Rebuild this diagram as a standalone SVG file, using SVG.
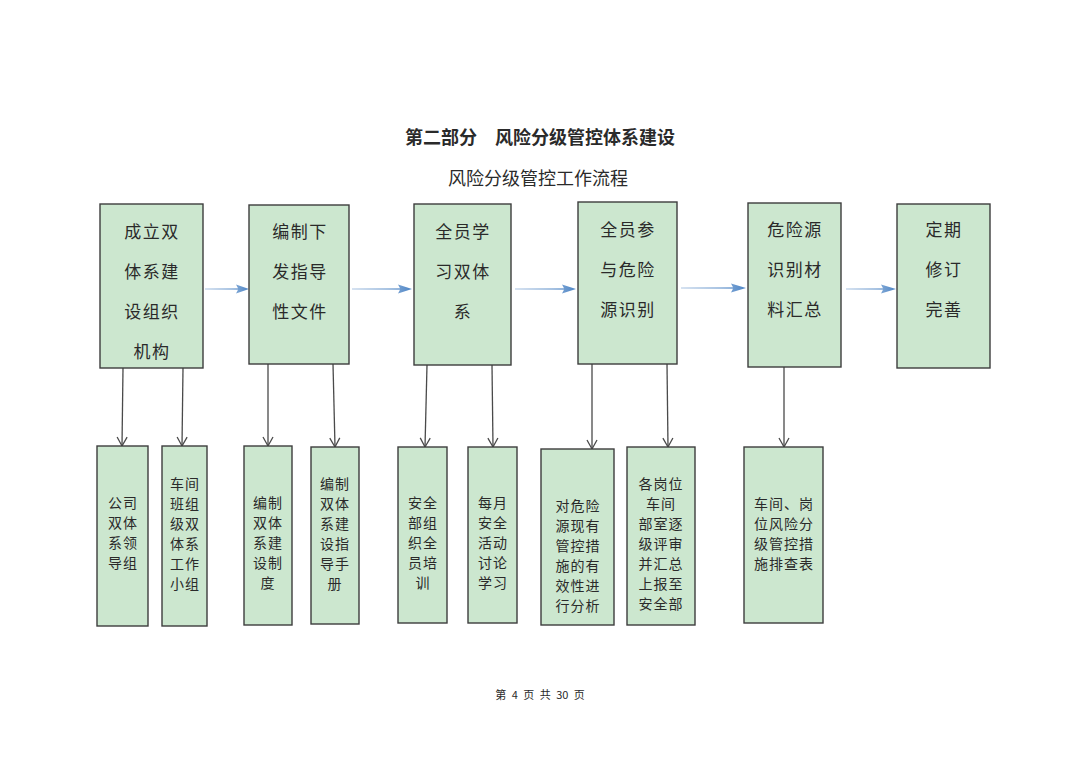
<svg xmlns="http://www.w3.org/2000/svg" width="1080" height="763" viewBox="0 0 1080 763">
<defs>
<style>
.box{fill:#cce7cf;stroke:#3d3d3d;stroke-width:1.4}
.t{font-family:"Noto Sans CJK SC","Noto Sans CJK TC",sans-serif;fill:#2a2a2a;text-anchor:middle;dominant-baseline:central}
.big{font-size:17px;letter-spacing:1.5px}
.sm{font-size:14px;letter-spacing:1px}
.conn{stroke:#4a4a4a;stroke-width:1.3;fill:none;marker-end:url(#vhead)}
.harrow{fill:url(#blueGrad)}
</style>
<linearGradient id="blueGrad" x1="0" y1="0" x2="1" y2="0">
<stop offset="0" stop-color="#c9d9ec"/>
<stop offset="0.6" stop-color="#8cb0d9"/>
<stop offset="1" stop-color="#4f86c6"/>
</linearGradient>
<marker id="vhead" viewBox="0 0 12 12" refX="10" refY="6" markerWidth="12" markerHeight="12" markerUnits="userSpaceOnUse" orient="auto">
<path d="M1,1 L10,6 L1,11" fill="none" stroke="#4a4a4a" stroke-width="1.3"/>
</marker>
</defs>
<rect width="1080" height="763" fill="#ffffff"/>

<text class="t" x="540" y="136" style="font-size:18px;font-weight:bold">第二部分　风险分级管控体系建设</text>
<text class="t" x="538" y="177" style="font-size:18px">风险分级管控工作流程</text>
<text class="t" x="540" y="694" style="font-size:11px;word-spacing:3px" xml:space="preserve">第 4 页 共 30 页</text>

<g id="connectors">
<path class="harrow" d="M205,288.2 L238,288.2 L236,284.5 L249,289 L236,293.5 L238,289.8 L205,289.8 Z"/>
<path class="harrow" d="M352,288.2 L400,288.2 L398,284.5 L412,289 L398,293.5 L400,289.8 L352,289.8 Z"/>
<path class="harrow" d="M515,288.2 L564,288.2 L562,284.5 L576,289 L562,293.5 L564,289.8 L515,289.8 Z"/>
<path class="harrow" d="M681,287.2 L733,287.2 L731,283.5 L746,288 L731,292.5 L733,288.8 L681,288.8 Z"/>
<path class="harrow" d="M846,288.2 L883,288.2 L881,284.5 L896,289 L881,293.5 L883,289.8 L846,289.8 Z"/>
<line class="conn" x1="123" y1="368" x2="122" y2="446"/>
<line class="conn" x1="183" y1="368" x2="182" y2="446"/>
<line class="conn" x1="268" y1="364" x2="268" y2="446"/>
<line class="conn" x1="333" y1="364" x2="335" y2="447"/>
<line class="conn" x1="427" y1="365" x2="425" y2="447"/>
<line class="conn" x1="492" y1="365" x2="493" y2="447"/>
<line class="conn" x1="592" y1="364" x2="592" y2="449"/>
<line class="conn" x1="667" y1="364" x2="668" y2="447"/>
<line class="conn" x1="784" y1="367" x2="784" y2="447"/>
</g>

<g id="n1">
<rect class="box" x="100" y="204" width="103" height="164"/>
<text class="t big" x="152" y="230">成立双</text>
<text class="t big" x="152" y="270">体系建</text>
<text class="t big" x="152" y="310">设组织</text>
<text class="t big" x="152" y="350">机构</text>
</g>
<g id="n2">
<rect class="box" x="249" y="205" width="100" height="159"/>
<text class="t big" x="300" y="230">编制下</text>
<text class="t big" x="300" y="270">发指导</text>
<text class="t big" x="300" y="310">性文件</text>
</g>
<g id="n3">
<rect class="box" x="414" y="204" width="97" height="161"/>
<text class="t big" x="463" y="230">全员学</text>
<text class="t big" x="463" y="270">习双体</text>
<text class="t big" x="463" y="310">系</text>
</g>
<g id="n4">
<rect class="box" x="578" y="202" width="99" height="162"/>
<text class="t big" x="628" y="228">全员参</text>
<text class="t big" x="628" y="268">与危险</text>
<text class="t big" x="628" y="308">源识别</text>
</g>
<g id="n5">
<rect class="box" x="748" y="203" width="93" height="164"/>
<text class="t big" x="795" y="228">危险源</text>
<text class="t big" x="795" y="268">识别材</text>
<text class="t big" x="795" y="308">料汇总</text>
</g>
<g id="n6">
<rect class="box" x="897" y="204" width="93" height="164"/>
<text class="t big" x="944" y="228">定期</text>
<text class="t big" x="944" y="268">修订</text>
<text class="t big" x="944" y="308">完善</text>
</g>

<g id="b1">
<rect class="box" x="97" y="446" width="51" height="180"/>
<text class="t sm" x="123" y="502">公司</text>
<text class="t sm" x="123" y="522">双体</text>
<text class="t sm" x="123" y="542">系领</text>
<text class="t sm" x="123" y="562">导组</text>
</g>
<g id="b2">
<rect class="box" x="162" y="446" width="45" height="180"/>
<text class="t sm" x="185" y="483">车间</text>
<text class="t sm" x="185" y="503">班组</text>
<text class="t sm" x="185" y="523">级双</text>
<text class="t sm" x="185" y="543">体系</text>
<text class="t sm" x="185" y="563">工作</text>
<text class="t sm" x="185" y="583">小组</text>
</g>
<g id="b3">
<rect class="box" x="244" y="446" width="48" height="179"/>
<text class="t sm" x="268" y="502">编制</text>
<text class="t sm" x="268" y="522">双体</text>
<text class="t sm" x="268" y="542">系建</text>
<text class="t sm" x="268" y="562">设制</text>
<text class="t sm" x="268" y="582">度</text>
</g>
<g id="b4">
<rect class="box" x="311" y="447" width="48" height="177"/>
<text class="t sm" x="335" y="483">编制</text>
<text class="t sm" x="335" y="503">双体</text>
<text class="t sm" x="335" y="523">系建</text>
<text class="t sm" x="335" y="543">设指</text>
<text class="t sm" x="335" y="563">导手</text>
<text class="t sm" x="335" y="583">册</text>
</g>
<g id="b5">
<rect class="box" x="398" y="447" width="49" height="176"/>
<text class="t sm" x="423" y="502">安全</text>
<text class="t sm" x="423" y="522">部组</text>
<text class="t sm" x="423" y="542">织全</text>
<text class="t sm" x="423" y="562">员培</text>
<text class="t sm" x="423" y="582">训</text>
</g>
<g id="b6">
<rect class="box" x="468" y="447" width="49" height="176"/>
<text class="t sm" x="493" y="502">每月</text>
<text class="t sm" x="493" y="522">安全</text>
<text class="t sm" x="493" y="542">活动</text>
<text class="t sm" x="493" y="562">讨论</text>
<text class="t sm" x="493" y="582">学习</text>
</g>
<g id="b7">
<rect class="box" x="541" y="449" width="73" height="176"/>
<text class="t sm" x="578" y="505">对危险</text>
<text class="t sm" x="578" y="525">源现有</text>
<text class="t sm" x="578" y="545">管控措</text>
<text class="t sm" x="578" y="565">施的有</text>
<text class="t sm" x="578" y="585">效性进</text>
<text class="t sm" x="578" y="605">行分析</text>
</g>
<g id="b8">
<rect class="box" x="627" y="447" width="68" height="178"/>
<text class="t sm" x="661" y="483">各岗位</text>
<text class="t sm" x="661" y="503">车间</text>
<text class="t sm" x="661" y="523">部室逐</text>
<text class="t sm" x="661" y="543">级评审</text>
<text class="t sm" x="661" y="563">并汇总</text>
<text class="t sm" x="661" y="583">上报至</text>
<text class="t sm" x="661" y="603">安全部</text>
</g>
<g id="b9">
<rect class="box" x="744" y="447" width="79" height="176"/>
<text class="t sm" x="784" y="503">车间、岗</text>
<text class="t sm" x="784" y="523">位风险分</text>
<text class="t sm" x="784" y="543">级管控措</text>
<text class="t sm" x="784" y="563">施排查表</text>
</g>
</svg>
